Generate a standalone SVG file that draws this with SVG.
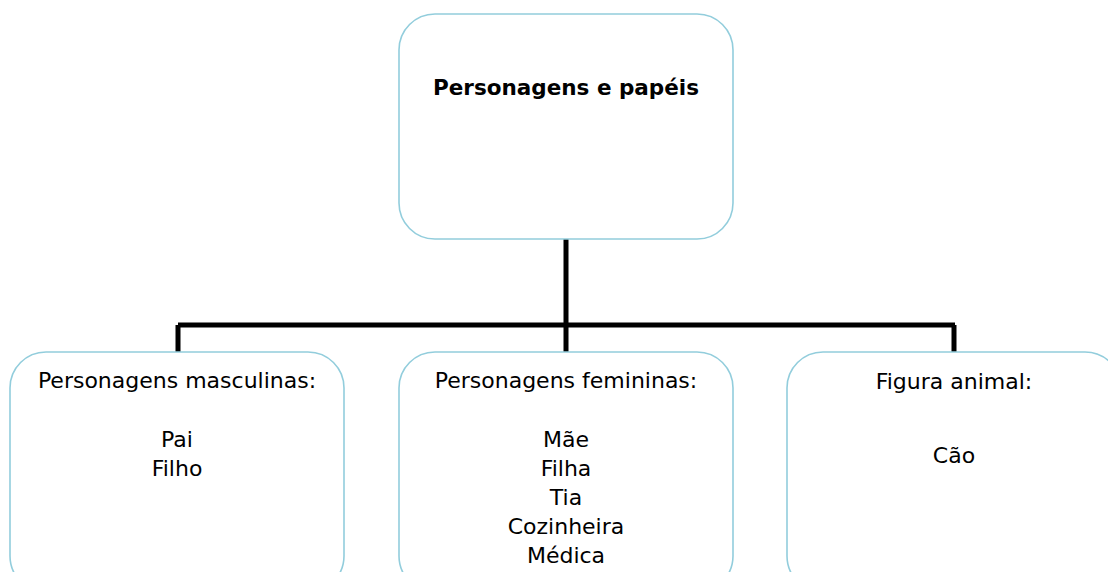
<svg xmlns="http://www.w3.org/2000/svg" width="1108" height="572" viewBox="0 0 1108 572">
<style>
.box{fill:#fff;stroke:#92cddc;stroke-width:1.6}
.t{font-family:"DejaVu Sans",sans-serif;font-size:22px;fill:#000;text-anchor:middle}
.b{font-weight:bold;font-size:21.5px}
.c{fill:none;stroke:#000;stroke-width:5}
</style>
<rect width="1108" height="572" fill="#fff"/>
<g id="connectors">
<path class="c" d="M566 239 V325 M178 325 H955 M178 325 V352 M566 325 V352 M954 325 V352"/>
</g>
<g id="root">
<rect class="box" x="399" y="14" width="334" height="225" rx="36"/>
<text class="t b" x="566" y="95">Personagens e papéis</text>
</g>
<g id="masculinas">
<rect class="box" x="10" y="352" width="334" height="240" rx="36"/>
<text class="t" x="177" y="388">Personagens masculinas:</text>
<text class="t" x="177" y="447">Pai</text>
<text class="t" x="177" y="476">Filho</text>
</g>
<g id="femininas">
<rect class="box" x="399" y="352" width="334" height="240" rx="36"/>
<text class="t" x="566" y="388">Personagens femininas:</text>
<text class="t" x="566" y="447">Mãe</text>
<text class="t" x="566" y="476">Filha</text>
<text class="t" x="566" y="505">Tia</text>
<text class="t" x="566" y="534">Cozinheira</text>
<text class="t" x="566" y="563">Médica</text>
</g>
<g id="animal">
<rect class="box" x="787" y="352" width="334" height="240" rx="36"/>
<text class="t" x="954" y="389">Figura animal:</text>
<text class="t" x="954" y="463">Cão</text>
</g>
</svg>
